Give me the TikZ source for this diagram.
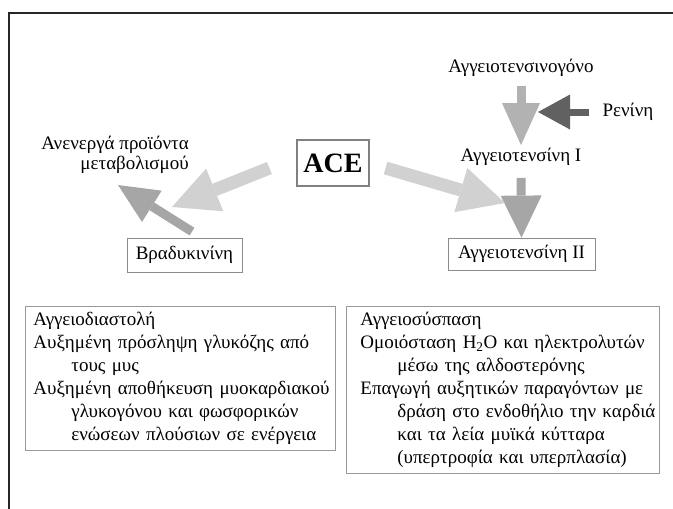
\documentclass[tikz,border=0pt]{standalone}
\usepackage{fontspec}
\setmainfont{Liberation Serif}
\usetikzlibrary{positioning}
\usetikzlibrary{arrows.meta}
\tikzset{
    mynode/.style = {inner sep=0pt, font=\fontsize{19}{20}\selectfont},
    mybox/.style = {rectangle, draw=black!45, line width=0.8pt, inner sep=0pt, font=\fontsize{19}{20}\selectfont},
    infobox/.style = {rectangle, draw=black!40, line width=0.8pt, anchor=north west, align=left, inner xsep=0pt, inner ysep=0pt, font=\fontsize{19}{23}\selectfont},
    edgel/.style = {-{Triangle[length=46pt,width=46pt,line width=0pt]}, line width=13pt, draw=black!18},
    edgem/.style = {-{Triangle[length=42pt,width=40pt,line width=0pt]}, line width=9pt, draw=black!35},
    edged/.style = {-{Triangle[length=32pt,width=35pt,line width=0pt]}, line width=7pt, draw=black!62},
    frame/.style = {line width=1.5pt, draw=black!85}
}
\begin{document}
\begin{tikzpicture}[x=1pt, y=-1pt]
  \useasboundingbox (0,0) rectangle (673,509);
  \draw[frame] (9,509) -- (9,13) -- (673,13);
  % renin-angiotensin side
  \node[mynode] (agt) at (521,68) {Αγγειοτενσινογόνο};
  \node[mynode] (ren) at (628,112) {Ρενίνη};
  \node[mynode] (ang1) at (521,157) {Αγγειοτενσίνη I};
  \node[mybox, minimum width=147pt, minimum height=32pt] (ang2) at (521.5,254) {Αγγειοτενσίνη II};
  % enzyme and kinin side
  \node[mybox, line width=1.2pt, draw=black!50, minimum width=72pt, minimum height=46pt,
        font=\fontsize{28}{30}\selectfont\bfseries] (ace) at (333,163) {ACE};
  \node[mybox, minimum width=115pt, minimum height=34pt] (bra) at (184.5,255) {Βραδυκινίνη};
  \node[mynode, align=right, anchor=east] (ina) at (189,155) {Ανενεργά προϊόντα\\μεταβολισμού};
  \coordinate (hitren) at (538,112);
  \coordinate (hitr) at (505,203);
  \coordinate (hitl) at (172,207);
  \coordinate (hitb) at (118,185);
  % arrows
  \draw[edgem, draw=black!30, -{Triangle[length=42pt,width=38pt,line width=0pt]}]
    ([yshift=-9pt]agt.south) -- ([yshift=3pt]ang1.north);
  \draw[edged] ([xshift=-13pt]ren.west) -- (hitren);
  \draw[edgem, -{Triangle[length=42pt,width=41pt,line width=0pt]}]
    ([yshift=-12pt]ang1.south) -- (ang2.north);
  \draw[edgel] ([xshift=16pt,yshift=-5pt]ace.east) -- (hitr);
  \draw[edgel] ([xshift=-27pt,yshift=-5pt]ace.west) -- (hitl);
  \draw[edgem, -{Triangle[length=40pt,width=37pt,line width=0pt]}]
    ([xshift=7.5pt,yshift=6pt]bra.north) -- (hitb);
  % effects
  \node[infobox, text width=310pt, minimum height=144pt] (vaso) at (25,306) {\leftskip=8pt
    Αγγειοδιαστολή\\
    Αυξημένη πρόσληψη γλυκόζης από\\
    \hspace*{38pt}τους μυς\\
    Αυξημένη αποθήκευση μυοκαρδιακού\\
    \hspace*{38pt}γλυκογόνου και φωσφορικών\\
    \hspace*{38pt}ενώσεων πλούσιων σε ενέργεια\par};
  \node[infobox, text width=313pt, minimum height=167pt] (cons) at (346,306) {\leftskip=14pt
    Αγγειοσύσπαση\\
    Ομοιόσταση H\textsubscript{2}O και ηλεκτρολυτών\\
    \hspace*{37pt}μέσω της αλδοστερόνης\\
    Επαγωγή αυξητικών παραγόντων με\\
    \hspace*{37pt}δράση στο ενδοθήλιο την καρδιά\\
    \hspace*{37pt}και τα λεία μυϊκά κύτταρα\\
    \hspace*{37pt}(υπερτροφία και υπερπλασία)\par};
\end{tikzpicture}
\end{document}
